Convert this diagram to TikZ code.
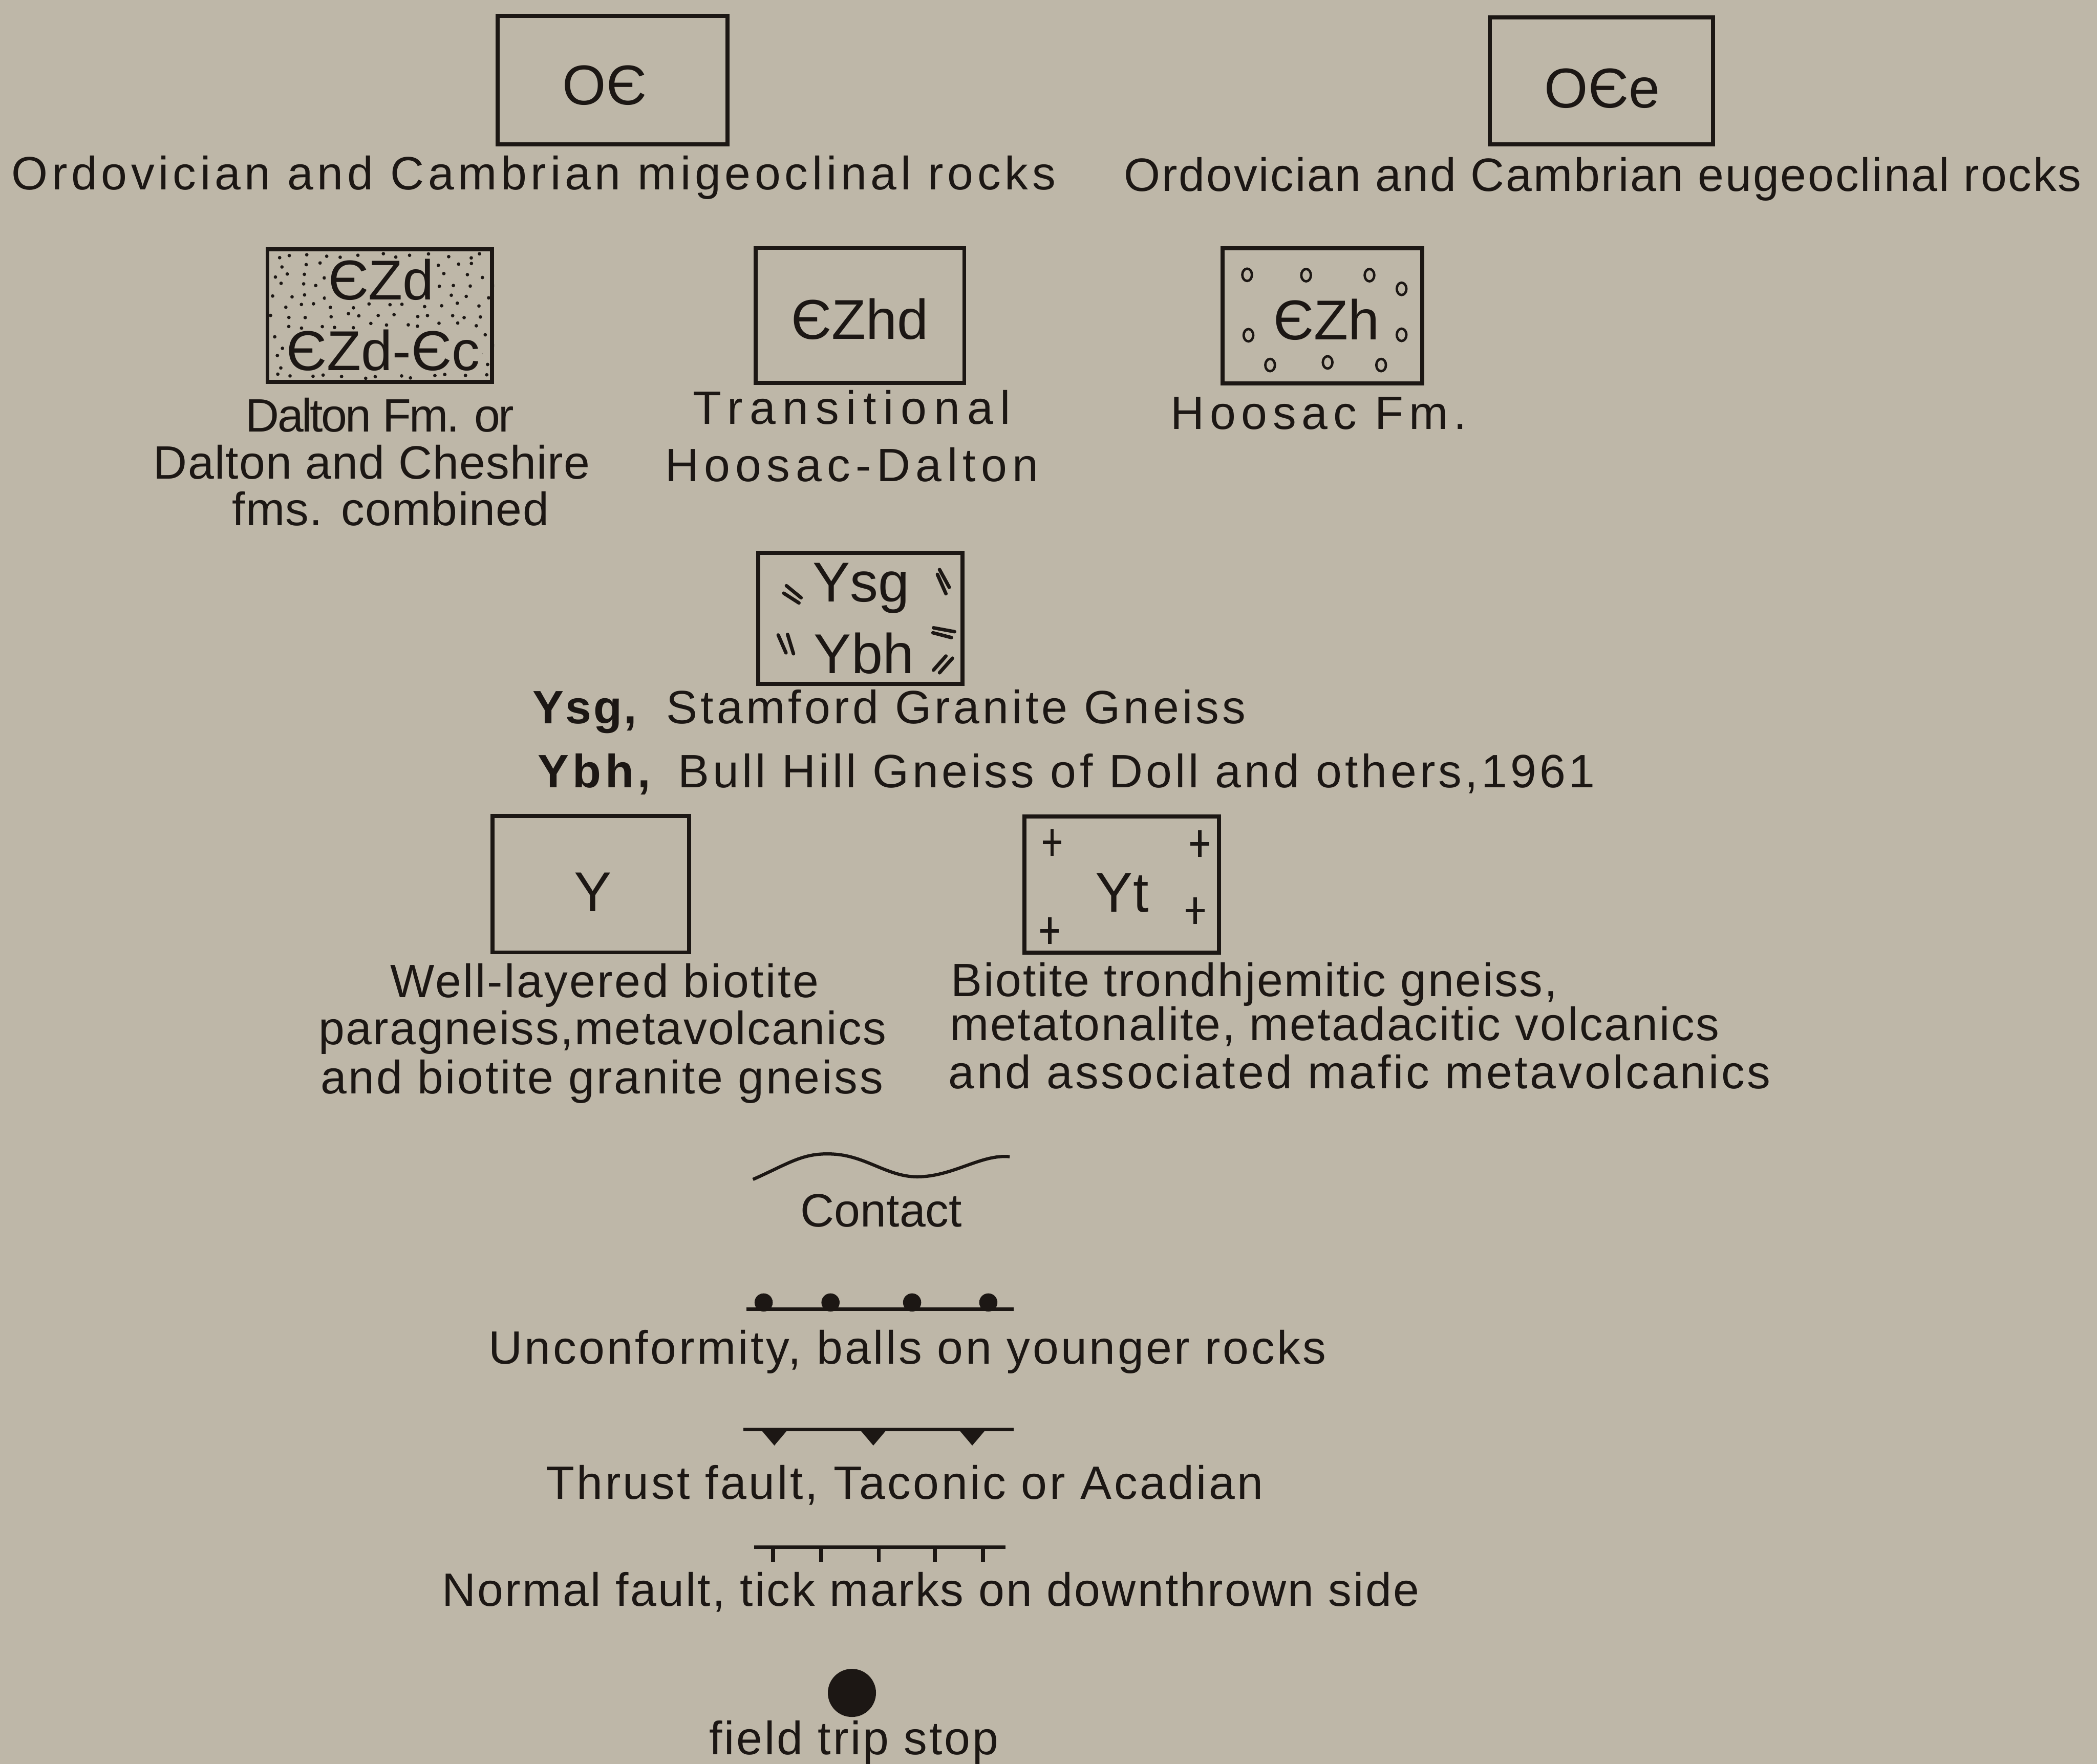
\documentclass[tikz,border=0pt]{standalone}
\usepackage{fontspec}
\setmainfont{Liberation Sans}
\definecolor{paper}{RGB}{190,183,168}
\definecolor{ink}{RGB}{28,23,20}
\newcommand\lsp[1]{\addfontfeature{LetterSpace=#1}}

\begin{document}
\begin{tikzpicture}[x=1pt,y=-1pt,
  unitbox/.style={draw=ink,line width=3pt,inner sep=0pt},
  code/.style={text=ink,inner sep=0pt,font=\fontsize{42}{48}\selectfont},
  txt/.style={text=ink,inner sep=0pt,anchor=base,font=\fontsize{35}{42}\selectfont\lsp{#1}},
  txt/.default=4,
  txtb/.style={text=ink,inner sep=0pt,anchor=base west,font=\fontsize{35}{42}\selectfont\bfseries\lsp{#1}},
  symline/.style={draw=ink,line width=2.6pt},
  foli/.style={draw=ink,line width=2.6pt,line cap=round},
  grain/.style={draw=ink,line width=2.6pt},
  pebble/.style={draw=ink,line width=1.8pt}]
\useasboundingbox (0,0) rectangle (1568,1319);
\fill[paper] (0,0) rectangle (1568,1319);

% Ordovician and Cambrian
\node[unitbox,minimum width=172,minimum height=96] (oc) at (458,60) {};
\node[code] (oc-l) at (452,64) {OЄ};
\node[txt=8.4] (oc-t) at (399,142) {Ordovician and Cambrian migeoclinal rocks};
\node[unitbox,minimum width=167,minimum height=95] (oce) at (1197.5,60.5) {};
\node[code] (oce-l) at (1198,66) {OЄe};
\node[txt=3.1] (oce-t) at (1198.5,143) {Ordovician and Cambrian eugeoclinal rocks};

% Dalton
\node[unitbox,minimum width=168,minimum height=99] (ezd) at (284,236) {};
\pgfmathsetseed{41}
\begin{scope}
\clip (ezd.north west) rectangle (ezd.south east);
\foreach \i in {0,...,12}
  \foreach \j in {0,...,12}
    \fill[ink,shift={(ezd.north west)}] ({7+13*\i+mod(\j,2)*6.5+4*rand},{6+7.5*\j+2*rand}) circle (1.3);
\end{scope}
\node[code,fill=paper,inner xsep=2pt] (ezd-a) at (285,209) {ЄZd};
\node[code,fill=paper,inner xsep=2pt] (ezd-b) at (286.5,262) {ЄZd-Єc};
\node[txt=-4] (ezd-t1) at (284,323) {Dalton Fm. or};
\node[txt=1.3] (ezd-t2) at (278,358) {Dalton and Cheshire};
\node[txt=1.5] (ezd-t3) at (292,393) {fms. combined};

% Transitional
\node[unitbox,minimum width=156,minimum height=101] (ezhd) at (643,236) {};
\node[code] (ezhd-l) at (643,238.5) {ЄZhd};
\node[txt=15] (ezhd-t1) at (637,317) {Transitional};
\node[txt=11.4] (ezhd-t2) at (637,360) {Hoosac-Dalton};

% Hoosac
\node[unitbox,minimum width=149,minimum height=101] (ezh) at (988.8,236.2) {};
\node[code] (ezh-l) at (992,239) {ЄZh};
\foreach \px/\py in {932.5/205.5,976.6/205.8,1024/205.8,1048/216,933.5/250.7,1048/250.4,949.7/273,992.7/271,1032.7/273}
  \draw[pebble] (\px,\py) ellipse (3.6 and 4.6);
\node[txt=11.7] (ezh-t) at (986,321) {Hoosac Fm.};

% Stamford and Bull Hill
\node[unitbox,minimum width=152.7,minimum height=97.8] (ysg) at (643.4,462.4) {};
\node[code,anchor=base] (ysg-a) at (644,450) {Ysg};
\node[code,anchor=base] (ysg-b) at (646,503.5) {Ybh};
\draw[foli] (588,438) -- (599,447) (586,443.6) -- (597.4,450.9);
\draw[foli] (581.9,474.9) -- (587.7,488.2) (588.9,474.4) -- (593.3,488.9);
\draw[foli] (702.5,425.9) -- (709.8,439.2) (700.9,429.5) -- (707.3,444);
\draw[foli] (698,469.5) -- (713.8,472.4) (697.6,473.2) -- (711.4,476.8);
\draw[foli] (698,501.1) -- (707.3,490.6) (702.5,503.1) -- (712.2,492.2);
\node[txtb=4] (ysg-n) at (398,541) {Ysg,};
\node[txt=6.9,anchor=base west] (ysg-t) at (498,541) {Stamford Granite Gneiss};
\node[txtb=8] (ybh-n) at (402,589) {Ybh,};
\node[txt=6.8,anchor=base west] (ybh-t) at (507,589) {Bull Hill Gneiss of Doll and others,1961};

% Y and Yt
\node[unitbox,minimum width=147,minimum height=102] (y) at (441.9,661.2) {};
\node[code] (y-l) at (443.5,667) {Y};
\node[txt=3.7] (y-t1) at (452,746) {Well-layered biotite};
\node[txt=2.7] (y-t2) at (450.5,781) {paragneiss,metavolcanics};
\node[txt=4.1] (y-t3) at (450,818) {and biotite granite gneiss};
\node[unitbox,minimum width=145.5,minimum height=102] (yt) at (838.6,661.5) {};
\node[code] (yt-l) at (839,667.5) {Yt};
\foreach \gx/\gy in {786.7/630,897/631,893.7/681,784.8/696}
  \draw[grain] (\gx-7,\gy) -- (\gx+7,\gy) (\gx,\gy-10) -- (\gx,\gy+10);
\node[txt=3,anchor=base west] (yt-t1) at (711,745) {Biotite trondhjemitic gneiss,};
\node[txt=3.1,anchor=base west] (yt-t2) at (710,778) {metatonalite, metadacitic volcanics};
\node[txt=5.2,anchor=base west] (yt-t3) at (709,814) {and associated mafic metavolcanics};

% line symbols
\draw[symline,line width=2.4pt] (563,882) .. controls (590,870) and (600,862) .. (622,863)
  .. controls (648,864) and (664,881) .. (688,880) .. controls (714,879) and (734,863) .. (755,865);
\node[txt=0] (contact-t) at (659,917.5) {Contact};

\coordinate (unc-a) at (558,979);
\coordinate (unc-b) at (758,979);
\draw[symline] (unc-a) -- (unc-b);
\foreach \bx in {571,621,682,739}
  \fill[ink] (\bx,974) circle (6.8);
\node[txt=4.9] (unc-t) at (678.5,1020) {Unconformity, balls on younger rocks};

\coordinate (thr-a) at (556,1069);
\coordinate (thr-b) at (758,1069);
\draw[symline] (thr-a) -- (thr-b);
\foreach \tx in {579,653,727}
  \fill[ink] (\tx-11,1068) -- (\tx+11,1068) -- (\tx,1081) -- cycle;
\node[txt=4.9] (thr-t) at (676.5,1121) {Thrust fault, Taconic or Acadian};

\coordinate (nor-a) at (564,1157);
\coordinate (nor-b) at (752,1157);
\draw[symline,line width=2.6pt] (nor-a) -- (nor-b);
\foreach \nx in {578,614,657,699,735}
  \draw[symline,line width=2.8pt] (\nx,1157) -- (\nx,1168);
\node[txt=3.5] (nor-t) at (696,1201) {Normal fault, tick marks on downthrown side};

\fill[ink] (637,1266) circle (18);
\node[txt=4.3] (stop-t) at (638.5,1312) {field trip stop};
\end{tikzpicture}
\end{document}
